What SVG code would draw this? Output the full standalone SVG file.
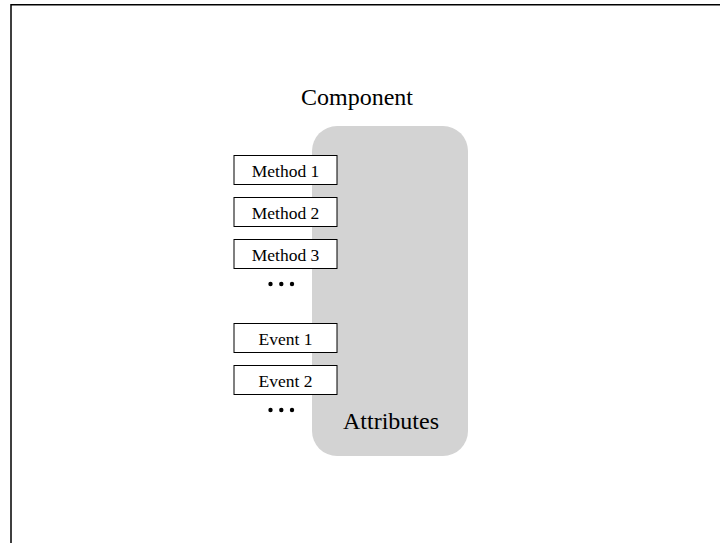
<svg xmlns="http://www.w3.org/2000/svg" width="720" height="543" viewBox="0 0 720 543">
<style>
.box{fill:#fff;stroke:#000;stroke-width:1}
.lbl{font-family:"Liberation Serif",serif;font-size:17.5px;text-anchor:middle;fill:#000}
.big{font-family:"Liberation Serif",serif;font-size:24px;text-anchor:middle;fill:#000}
.dot{fill:#000}
</style>
<rect width="720" height="543" fill="#fff"/>
<path d="M11,543 V4.7 H720" fill="none" stroke="#000" stroke-width="1.5"/>
<g id="component">
<text class="big" x="357" y="105">Component</text>
<rect x="312" y="126" width="156" height="330" rx="25" ry="25" fill="#d3d3d3"/>
<text class="big" x="391" y="429">Attributes</text>
</g>
<g id="method1"><rect class="box" x="234" y="155.5" width="103" height="29"/><text class="lbl" x="285.5" y="176.5">Method 1</text></g>
<g id="method2"><rect class="box" x="234" y="197.5" width="103" height="29"/><text class="lbl" x="285.5" y="218.5">Method 2</text></g>
<g id="method3"><rect class="box" x="234" y="239.5" width="103" height="29"/><text class="lbl" x="285.5" y="260.5">Method 3</text></g>
<g id="dots1"><circle class="dot" cx="270.5" cy="284" r="2.2"/><circle class="dot" cx="281.3" cy="284" r="2.2"/><circle class="dot" cx="292" cy="284" r="2.2"/></g>
<g id="event1"><rect class="box" x="234" y="323.5" width="103" height="29"/><text class="lbl" x="285.5" y="344.5">Event 1</text></g>
<g id="event2"><rect class="box" x="234" y="365.5" width="103" height="29"/><text class="lbl" x="285.5" y="386.5">Event 2</text></g>
<g id="dots2"><circle class="dot" cx="270.5" cy="410" r="2.2"/><circle class="dot" cx="281.3" cy="410" r="2.2"/><circle class="dot" cx="292" cy="410" r="2.2"/></g>
<g id="connectors"></g>
</svg>
